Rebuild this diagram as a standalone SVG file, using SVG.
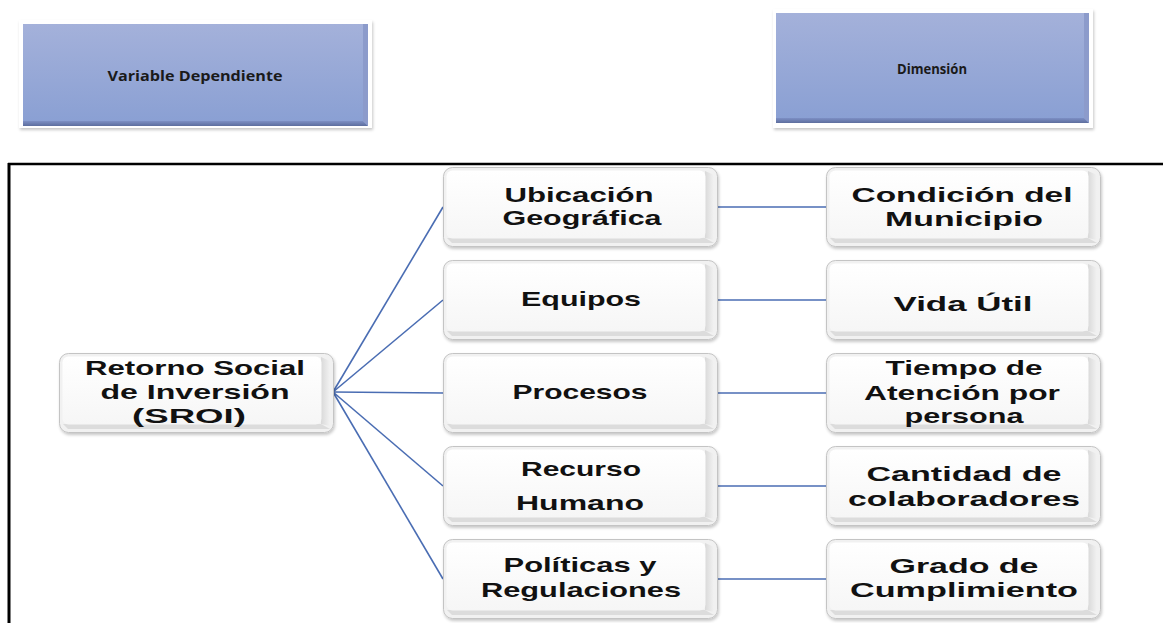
<svg xmlns="http://www.w3.org/2000/svg" xmlns:xlink="http://www.w3.org/1999/xlink" width="1163" height="623" viewBox="0 0 1163 623">
  <style>
    .lbl { font-family: "Liberation Sans", Arial, sans-serif; font-weight: 700; font-size: 20.5px; fill: #111111; text-anchor: middle; }
    .hdr { font-family: "Open Sans", "Liberation Sans", sans-serif; font-weight: 700; font-size: 14.5px; fill: #1a1a1a; text-anchor: middle; }
    .link { stroke: #4a6db3; stroke-width: 1.6; fill: none; }
    .frame { stroke: #000000; fill: none; }
  </style>
  <defs>
    <linearGradient id="face" x1="0" y1="0" x2="0" y2="1">
      <stop offset="0" stop-color="#ffffff"/>
      <stop offset="1" stop-color="#f6f6f6"/>
    </linearGradient>
    <linearGradient id="edgeR" x1="0" y1="0" x2="1" y2="0">
      <stop offset="0" stop-color="#d9d9d9"/>
      <stop offset="1" stop-color="#f2f2f2"/>
    </linearGradient>
    <linearGradient id="blue" x1="0" y1="0" x2="0" y2="1">
      <stop offset="0" stop-color="#a4b1da"/>
      <stop offset="1" stop-color="#899fd3"/>
    </linearGradient>
    <linearGradient id="blueEdge" x1="0" y1="0" x2="0" y2="1">
      <stop offset="0" stop-color="#7d8fc4"/>
      <stop offset="1" stop-color="#5d6e9e"/>
    </linearGradient>
    <filter id="soft" x="-5%" y="-10%" width="110%" height="125%">
      <feDropShadow dx="1" dy="2" stdDeviation="1.6" flood-color="#000000" flood-opacity="0.22"/>
    </filter>
    <!-- bevelled white tile, 275 x 80 -->
    <g id="tile">
      <rect x="0.5" y="0.5" width="274" height="79" rx="9" fill="#f1f1f1" stroke="#c4c4c4" filter="url(#soft)"/>
      <path d="M262 4 L271 8 L271 73 L262 71 Z" fill="url(#edgeR)"/>
      <path d="M4 71 L262 71 L271 76 L9 76 Z" fill="#dcdcdc"/>
      <rect x="3.5" y="3.5" width="259" height="68" rx="6" fill="url(#face)"/>
    </g>
  </defs>

  <rect width="1163" height="623" fill="#ffffff"/>

  <!-- frame around the diagram -->
  <g id="frame">
    <line class="frame" x1="8" y1="164" x2="1163" y2="164" stroke-width="2.5"/>
    <line class="frame" x1="9" y1="163" x2="9" y2="623" stroke-width="3"/>
  </g>

  <!-- header labels -->
  <g id="hdr-variable">
    <rect x="19" y="20" width="353" height="108" fill="#ffffff" filter="url(#soft)"/>
    <rect x="23" y="24" width="345" height="102" fill="url(#blue)"/>
    <path d="M23 121 L363 121 L368 126 L23 126 Z" fill="url(#blueEdge)"/>
    <path d="M363 24 L368 24 L368 126 L363 121 Z" fill="#8c9bcb"/>
    <text class="hdr" x="195" y="81" textLength="175" lengthAdjust="spacingAndGlyphs">Variable Dependiente</text>
  </g>
  <g id="hdr-dimension">
    <rect x="773" y="9" width="320" height="119" fill="#ffffff" filter="url(#soft)"/>
    <rect x="776" y="13" width="313" height="110" fill="url(#blue)"/>
    <path d="M776 118 L1084 118 L1089 123 L776 123 Z" fill="url(#blueEdge)"/>
    <path d="M1084 13 L1089 13 L1089 123 L1084 118 Z" fill="#8c9bcb"/>
    <text class="hdr" x="932" y="74" textLength="70" lengthAdjust="spacingAndGlyphs">Dimensión</text>
  </g>

  <!-- connectors -->
  <g id="connectors">
    <line class="link" x1="333" y1="392" x2="443" y2="207"/>
    <line class="link" x1="333" y1="392" x2="443" y2="300"/>
    <line class="link" x1="333" y1="392" x2="443" y2="393"/>
    <line class="link" x1="333" y1="392" x2="443" y2="486"/>
    <line class="link" x1="333" y1="392" x2="443" y2="579"/>
    <line class="link" x1="718" y1="207" x2="826" y2="207"/>
    <line class="link" x1="718" y1="300" x2="826" y2="300"/>
    <line class="link" x1="718" y1="393" x2="826" y2="393"/>
    <line class="link" x1="718" y1="486" x2="826" y2="486"/>
    <line class="link" x1="718" y1="579" x2="826" y2="579"/>
  </g>

  <!-- root -->
  <g id="node-sroi">
    <use xlink:href="#tile" x="59" y="353"/>
    <text class="lbl" x="195" y="375" textLength="220" lengthAdjust="spacingAndGlyphs">Retorno Social</text>
    <text class="lbl" x="195" y="399" textLength="189" lengthAdjust="spacingAndGlyphs">de Inversión</text>
    <text class="lbl" x="189" y="422.5" textLength="114" lengthAdjust="spacingAndGlyphs">(SROI)</text>
  </g>

  <!-- dimensions -->
  <g id="node-ubicacion">
    <use xlink:href="#tile" x="443" y="167"/>
    <text class="lbl" x="579" y="201.5" textLength="149" lengthAdjust="spacingAndGlyphs">Ubicación</text>
    <text class="lbl" x="582" y="225" textLength="159" lengthAdjust="spacingAndGlyphs">Geográfica</text>
  </g>
  <g id="node-equipos">
    <use xlink:href="#tile" x="443" y="260"/>
    <text class="lbl" x="581" y="306" textLength="120" lengthAdjust="spacingAndGlyphs">Equipos</text>
  </g>
  <g id="node-procesos">
    <use xlink:href="#tile" x="443" y="353"/>
    <text class="lbl" x="580" y="399" textLength="135" lengthAdjust="spacingAndGlyphs">Procesos</text>
  </g>
  <g id="node-recurso">
    <use xlink:href="#tile" x="443" y="446"/>
    <text class="lbl" x="581" y="476" textLength="120" lengthAdjust="spacingAndGlyphs">Recurso</text>
    <text class="lbl" x="580" y="510" textLength="128" lengthAdjust="spacingAndGlyphs">Humano</text>
  </g>
  <g id="node-politicas">
    <use xlink:href="#tile" x="443" y="539"/>
    <text class="lbl" x="580" y="572" textLength="153" lengthAdjust="spacingAndGlyphs">Políticas y</text>
    <text class="lbl" x="581" y="597" textLength="200" lengthAdjust="spacingAndGlyphs">Regulaciones</text>
  </g>

  <!-- indicators -->
  <g id="node-condicion">
    <use xlink:href="#tile" x="826" y="167"/>
    <text class="lbl" x="962" y="202" textLength="221" lengthAdjust="spacingAndGlyphs">Condición del</text>
    <text class="lbl" x="964" y="226" textLength="158" lengthAdjust="spacingAndGlyphs">Municipio</text>
  </g>
  <g id="node-vida">
    <use xlink:href="#tile" x="826" y="260"/>
    <text class="lbl" x="963" y="311" textLength="139" lengthAdjust="spacingAndGlyphs">Vida Útil</text>
  </g>
  <g id="node-tiempo">
    <use xlink:href="#tile" x="826" y="353"/>
    <text class="lbl" x="964" y="375" textLength="157" lengthAdjust="spacingAndGlyphs">Tiempo de</text>
    <text class="lbl" x="962" y="399.5" textLength="196" lengthAdjust="spacingAndGlyphs">Atención por</text>
    <text class="lbl" x="964" y="423" textLength="119" lengthAdjust="spacingAndGlyphs">persona</text>
  </g>
  <g id="node-cantidad">
    <use xlink:href="#tile" x="826" y="446"/>
    <text class="lbl" x="964" y="481" textLength="195" lengthAdjust="spacingAndGlyphs">Cantidad de</text>
    <text class="lbl" x="964" y="506" textLength="232" lengthAdjust="spacingAndGlyphs">colaboradores</text>
  </g>
  <g id="node-grado">
    <use xlink:href="#tile" x="826" y="539"/>
    <text class="lbl" x="964" y="573" textLength="149" lengthAdjust="spacingAndGlyphs">Grado de</text>
    <text class="lbl" x="964" y="597" textLength="228" lengthAdjust="spacingAndGlyphs">Cumplimiento</text>
  </g>
</svg>
